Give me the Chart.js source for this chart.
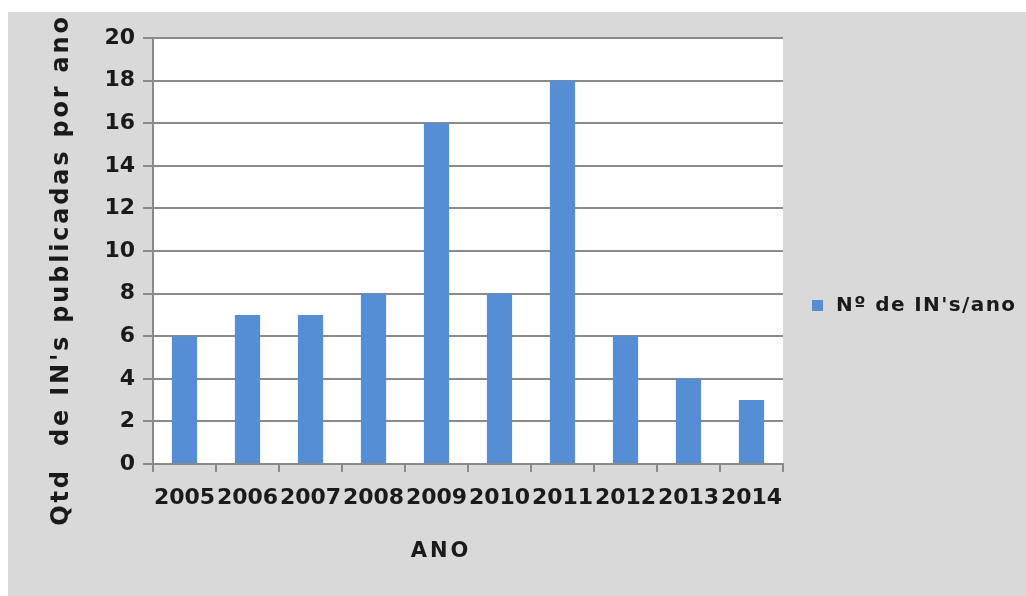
<!DOCTYPE html>
<html>
<head>
<meta charset="utf-8">
<script src="https://cdn.jsdelivr.net/npm/chart.js@4/dist/chart.umd.min.js"></script>
<style>
    html, body { margin: 0; padding: 0; background: #ffffff; }
    #wrap {
        position: absolute;
        left: 8px;
        top: 12px;
        width: 1018px;
        height: 584px;
        background: #d9d9d9;
    }
</style>
</head>
<body>
<div id="wrap"><canvas id="barChart"></canvas></div>
<script>
// Data
const years = ['2005', '2006', '2007', '2008', '2009', '2010', '2011', '2012', '2013', '2014'];
const counts = [6, 7, 7, 8, 16, 8, 18, 6, 4, 3];
const seriesLabel = "Nº de IN's/ano";
const yTitle = "Qtd  de IN's publicadas por ano";
const xTitle = 'ANO';
const yMin = 0;
const yMax = 20;
const yStep = 2;

const gridColor = '#8a8a8a';
const textColor = '#1a1a1a';
const barColor = '#558ed5';

// white plot background + titles + legend
const decorations = {
    id: 'decorations',
    beforeDraw(chart) {
        const { ctx, chartArea } = chart;
        ctx.save();
        ctx.fillStyle = '#ffffff';
        ctx.fillRect(chartArea.left, chartArea.top, chartArea.right - chartArea.left, chartArea.bottom - chartArea.top);
        ctx.restore();
    },
    afterDraw(chart) {
        const { ctx } = chart;
        ctx.save();
        ctx.fillStyle = textColor;
        ctx.textAlign = 'center';
        ctx.textBaseline = 'middle';

        // y axis title
        ctx.save();
        ctx.translate(54, 258);
        ctx.rotate(-Math.PI / 2);
        ctx.font = 'bold 24px "DejaVu Sans"';
        ctx.letterSpacing = '2.8px';
        ctx.fillText(yTitle, 0, 0);
        ctx.restore();

        // x axis title
        ctx.save();
        ctx.font = 'bold 21px "DejaVu Sans"';
        ctx.letterSpacing = '3px';
        ctx.fillText(xTitle, 433, 540);
        ctx.restore();

        // legend
        const ds = chart.data.datasets[0];
        ctx.fillStyle = ds.backgroundColor;
        ctx.fillRect(804, 288, 11, 11);
        ctx.fillStyle = textColor;
        ctx.textAlign = 'left';
        ctx.font = 'bold 20px "DejaVu Sans"';
        ctx.letterSpacing = '1.4px';
        ctx.fillText(ds.label, 828, 294);
        ctx.restore();
    }
};

const ctx = document.getElementById('barChart').getContext('2d');
const chart = new Chart(ctx, {
    type: 'bar',
    data: {
        labels: years,
        datasets: [{
            label: seriesLabel,
            data: counts,
            backgroundColor: barColor,
            borderWidth: 0,
            barPercentage: 0.4,
            categoryPercentage: 1.0
        }]
    },
    options: {
        responsive: true,
        maintainAspectRatio: false,
        animation: false,
        layout: {
            padding: { top: 26, right: 243, bottom: 0, left: 0 }
        },
        plugins: {
            legend: { display: false },
            tooltip: { enabled: false }
        },
        scales: {
            x: {
                grid: {
                    offset: true,
                    drawOnChartArea: false,
                    color: gridColor,
                    lineWidth: 2,
                    tickLength: 8
                },
                border: { color: gridColor, width: 2 },
                ticks: {
                    color: textColor,
                    font: { family: 'DejaVu Sans', size: 22, weight: 'bold' },
                    autoSkip: false,
                    maxRotation: 0,
                    padding: 13
                },
                afterFit(scale) { scale.height = 132; }
            },
            y: {
                min: yMin,
                max: yMax,
                grid: {
                    color: gridColor,
                    lineWidth: 2,
                    tickLength: 10
                },
                border: { color: gridColor, width: 2 },
                ticks: {
                    stepSize: yStep,
                    color: textColor,
                    font: { family: 'DejaVu Sans', size: 22, weight: 'bold' },
                    padding: 8
                },
                afterFit(scale) { scale.width = 145; }
            }
        }
    },
    plugins: [decorations]
});
</script>
</body>
</html>
